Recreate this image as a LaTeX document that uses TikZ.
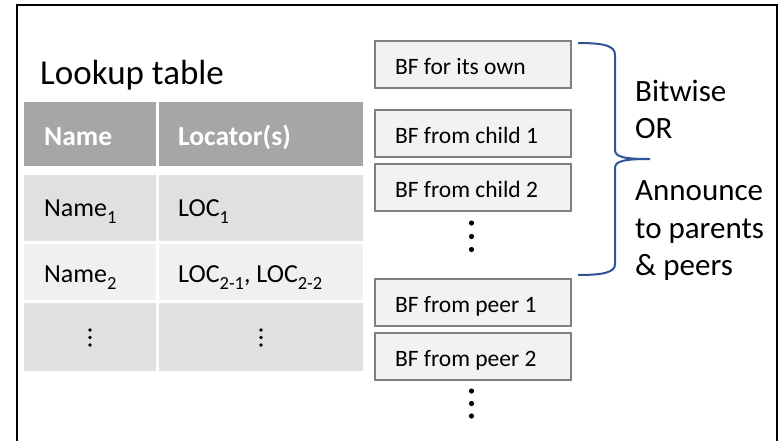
\documentclass[tikz,border=0pt]{standalone}
\usepackage{fontspec}
\setmainfont{Carlito}
\definecolor{hdrgray}{HTML}{A6A6A6}
\definecolor{rowdark}{HTML}{E0E0E0}
\definecolor{rowlight}{HTML}{F0F0F0}
\definecolor{bffill}{HTML}{F2F2F2}
\definecolor{bfline}{HTML}{808080}
\definecolor{braceblue}{RGB}{47,85,151}
% lowered subscript in the running font
\newcommand\lowsub[1]{\raisebox{-0.28em}{\fontsize{18.5}{18.5}\selectfont #1}}
\begin{document}
\begin{tikzpicture}[x=1pt,y=-1pt,
  frame/.style={draw=black,line width=2pt},
  cell/.style={draw=none,inner sep=0pt,anchor=north west},
  hdrtxt/.style={anchor=base west,inner sep=0pt,text=white,font=\fontsize{27.5}{27.5}\selectfont\bfseries},
  bodytxt/.style={anchor=base west,inner sep=0pt,font=\fontsize{26}{26}\selectfont},
  bfbox/.style={draw=bfline,fill=bffill,line width=2pt,anchor=north west,
    minimum height=47pt,text width=156pt,inner xsep=20pt,inner ysep=0pt,align=flush left,
    text height=21pt,text depth=1pt,font=\fontsize{23.5}{23.5}\selectfont},
  sidetxt/.style={anchor=base west,inner sep=0pt,font=\fontsize{31}{31}\selectfont},
  brace/.style={draw=braceblue,line width=2pt,line join=round},
  dot/.style={fill=black}]
\useasboundingbox (0,0) rectangle (779,440);

% outer frame (open at the bottom edge)
\draw[frame] (17,441) -- (17,5) -- (777,5) -- (777,441);

% title
\node[anchor=base west,inner sep=0pt,font=\fontsize{35}{35}\selectfont] (title) at (40,84) {Lookup table};

% table cells
\node[cell,fill=hdrgray,minimum width=132pt,minimum height=64pt] (hname) at (24,102) {};
\node[cell,fill=hdrgray,minimum width=204pt,minimum height=64pt] (hloc) at (159,102) {};
\node[cell,fill=rowdark,minimum width=132pt,minimum height=66pt] (r1name) at (24,175) {};
\node[cell,fill=rowdark,minimum width=204pt,minimum height=66pt] (r1loc) at (159,175) {};
\node[cell,fill=rowlight,minimum width=132pt,minimum height=56pt] (r2name) at (24,244) {};
\node[cell,fill=rowlight,minimum width=204pt,minimum height=56pt] (r2loc) at (159,244) {};
\node[cell,fill=rowdark,minimum width=132pt,minimum height=68pt] (r3name) at (24,303) {};
\node[cell,fill=rowdark,minimum width=204pt,minimum height=68pt] (r3loc) at (159,303) {};

% table text
\node[hdrtxt] (tname) at (44,145) {Name};
\node[hdrtxt] (tloc) at (178,145) {Locator(s)};
\node[bodytxt] (n1) at (44,216) {Name\lowsub{1}};
\node[bodytxt] (l1) at (178,216) {LOC\lowsub{1}};
\node[bodytxt] (n2) at (44,282) {Name\lowsub{2}};
\node[bodytxt] (l2) at (178,282) {LOC\lowsub{2-1}, LOC\lowsub{2-2}};

% vertical ellipses in the last table row
\foreach \yy in {330,337.5,345}{
  \fill[dot] (90,\yy) circle (1.8pt);
  \fill[dot] (261,\yy) circle (1.8pt);
}

% Bloom filter boxes
\node[bfbox] (bf1) at (374,40) {BF for its own};
\node[bfbox] (bf2) at (374,109) {BF from child 1};
\node[bfbox] (bf3) at (374,163) {BF from child 2};
\node[bfbox] (bf4) at (374,277.5) {BF from peer 1};
\node[bfbox] (bf5) at (374,331.5) {BF from peer 2};

% ellipses between and below the boxes
\foreach \yy in {223,236.5,249.5}{\fill[dot] (471.5,\yy) circle (2.6pt);}
\foreach \yy in {391,403.5,416}{\fill[dot] (471.5,\yy) circle (2.6pt);}

% brace
\coordinate (btop) at (578,43);
\coordinate (btip) at (650,159);
\coordinate (bbot) at (578,275);
\draw[brace] (btop) .. controls (605,43) and (615,46) .. (615,55)
  -- (615,150) .. controls (615,157) and (624,159) .. (btip)
  (btip) .. controls (624,159) and (615,161) .. (615,168)
  -- (615,264) .. controls (615,272) and (605,275) .. (bbot);

% side labels
\node[sidetxt] (bw1) at (635,101) {Bitwise};
\node[sidetxt] (bw2) at (635,138) {OR};
\node[sidetxt] (an1) at (635,200) {Announce};
\node[sidetxt] (an2) at (635,238) {to parents};
\node[sidetxt] (an3) at (635,275) {\& peers};
\end{tikzpicture}
\end{document}
